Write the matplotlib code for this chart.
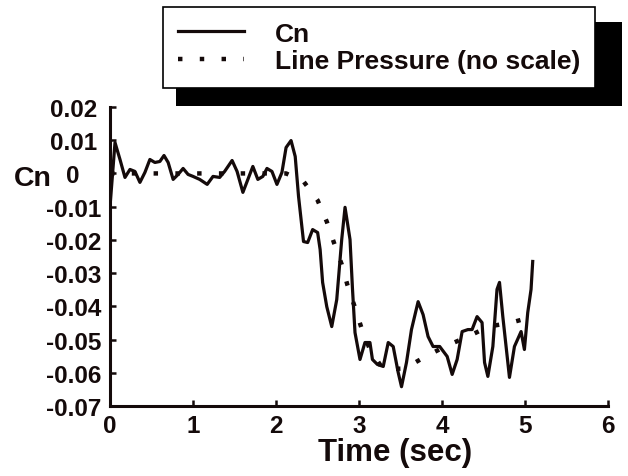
import numpy as np
import matplotlib
matplotlib.use("Agg")
import matplotlib.pyplot as plt
from matplotlib.patches import Rectangle
from matplotlib.lines import Line2D

plt.rcParams.update({
    "font.family": ["Liberation Sans", "DejaVu Sans"],
    "font.weight": "bold",
    "text.color": "#140a0a",
    "axes.labelcolor": "#140a0a",
    "axes.labelweight": "bold",
    "xtick.color": "#140a0a",
    "ytick.color": "#140a0a",
})

# Cn trace
vecTime = [0.00, 0.06, 0.12, 0.18, 0.24, 0.30, 0.36, 0.42, 0.48, 0.54,
           0.60, 0.65, 0.70, 0.76, 0.82, 0.88, 0.94, 1.00, 1.08, 1.17,
           1.24, 1.32, 1.38, 1.47, 1.53, 1.60, 1.66, 1.72, 1.78, 1.84,
           1.89, 1.95, 2.01, 2.07, 2.12, 2.18, 2.23, 2.27, 2.33, 2.38,
           2.44, 2.50, 2.53, 2.56, 2.61, 2.67, 2.73, 2.79, 2.83, 2.89,
           2.92, 2.95, 3.01, 3.07, 3.13, 3.16, 3.22, 3.29, 3.35, 3.41,
           3.47, 3.51, 3.57, 3.63, 3.71, 3.77, 3.83, 3.89, 3.97, 4.06,
           4.12, 4.18, 4.24, 4.31, 4.36, 4.42, 4.48, 4.51, 4.55, 4.61,
           4.66, 4.69, 4.73, 4.81, 4.87, 4.95, 4.99, 5.03, 5.07, 5.09]
vecCn = [-0.0099, 0.0093, 0.0042, -0.0012, 0.0012, 0.0006, -0.0027, 0.0003, 0.0042, 0.0033,
         0.0036, 0.0054, 0.0033, -0.0018, -0.0003, 0.0015, -0.0003, -0.0009, -0.0018, -0.0033,
         -0.0009, -0.0012, 0.0006, 0.0039, 0.0006, -0.0057, -0.0018, 0.0021, -0.0018, -0.0009,
         0.0015, 0.0006, -0.0033, 0.0003, 0.0078, 0.0099, 0.0051, -0.0069, -0.0205, -0.0208,
         -0.0169, -0.0178, -0.0229, -0.0328, -0.0401, -0.0461, -0.0380, -0.0199, -0.0102, -0.0199,
         -0.0349, -0.0479, -0.0560, -0.0509, -0.0509, -0.0560, -0.0575, -0.0581, -0.0509, -0.0521,
         -0.0599, -0.0642, -0.0569, -0.0470, -0.0386, -0.0425, -0.0491, -0.0521, -0.0521, -0.0551,
         -0.0605, -0.0560, -0.0476, -0.0470, -0.0470, -0.0431, -0.0449, -0.0569, -0.0611, -0.0521,
         -0.0349, -0.0328, -0.0431, -0.0614, -0.0521, -0.0476, -0.0530, -0.0419, -0.0349, -0.0265]

# line pressure (no scale)
vecPressTime = [0.00, 2.12, 2.33, 2.50, 2.61, 2.70, 2.79, 2.86, 2.95, 3.03,
                3.13, 3.29, 3.55, 3.80, 4.06, 4.31, 4.56, 4.83, 5.05]
vecPress = [0.0, 0.0, -0.0024, -0.0081, -0.0145, -0.0211, -0.0274, -0.0337, -0.0404, -0.0467,
            -0.0530, -0.0590, -0.0587, -0.0551, -0.0518, -0.0491, -0.0461, -0.0449, -0.0434]

vecYTicks = [0.02, 0.01, 0.0, -0.01, -0.02, -0.03, -0.04, -0.05, -0.06, -0.07]
vecYTickLabels = ["0.02", "0.01", "0", "-0.01", "-0.02", "-0.03", "-0.04", "-0.05", "-0.06", "-0.07"]
vecXTicks = [0, 1, 2, 3, 4, 5, 6]

clrInk = "#140a0a"
dashPress = (0, (1, 3.9))

fig = plt.figure(figsize=(6.28, 4.77), dpi=100)
ax = fig.add_axes([0.1752, 0.1468, 0.7934, 0.6268])

ax.plot(vecTime, vecCn, color=clrInk, linewidth=2.3, solid_joinstyle="round")
ax.plot(vecPressTime, vecPress, color=clrInk, linewidth=3.2,
        linestyle=dashPress, dash_capstyle="butt")

ax.set_xlim(0, 6)
ax.set_ylim(-0.07, 0.02)
ax.set_xticks(vecXTicks)
ax.set_xticklabels([str(v) for v in vecXTicks])
ax.set_yticks(vecYTicks)
ax.set_yticklabels(vecYTickLabels, ha="center")
ax.tick_params(direction="in", length=4, width=1.8, labelsize=17.5)
ax.tick_params(axis="x", pad=6)
ax.tick_params(axis="y", pad=26.5)
for s in ["top", "right"]:
    ax.spines[s].set_visible(False)
for s in ["left", "bottom"]:
    ax.spines[s].set_linewidth(2.2)
    ax.spines[s].set_color(clrInk)

ax.set_xlabel("Time (sec)", fontsize=22.5, va="top")
ax.xaxis.set_label_coords(0.572, -0.105)
ax.set_ylabel("Cn", rotation=0, fontsize=20.5, ha="center", va="center")
ax.yaxis.set_label_coords(-0.1545, 0.762)

# legend with a solid black shadow behind it
fig.patches.append(Rectangle((0.2803, 0.7757), 0.7101, 0.1761, transform=fig.transFigure,
                             facecolor="black", edgecolor="none", zorder=0))
handles = [Line2D([], [], color=clrInk, linewidth=2.3),
           Line2D([], [], color=clrInk, linewidth=3.2, linestyle=dashPress, dash_capstyle="butt")]
leg = fig.legend(handles, ["Cn", "Line Pressure (no scale)"], loc="upper left",
                 bbox_to_anchor=(0.2596, 0.9832), bbox_transform=fig.transFigure,
                 borderaxespad=0, fancybox=False, framealpha=1, edgecolor="black",
                 fontsize=19, handlelength=2.5, handletextpad=1.2, labelspacing=0.14,
                 borderpad=0.55)
leg.get_frame().set_linewidth(1.2)
leg.set_zorder(5)

fig.savefig("out.png", dpi=100)
